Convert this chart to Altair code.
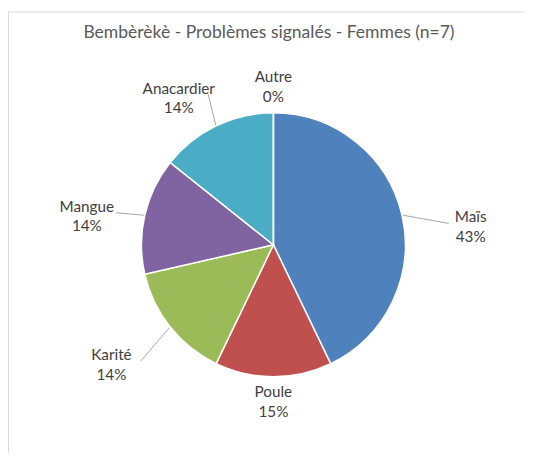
import altair as alt
import pandas as pd

# ---- data ----
categories = ["Maïs", "Poule", "Karité", "Mangue", "Anacardier", "Autre"]
counts = [3, 1, 1, 1, 1, 0]
pct_labels = ["43%", "15%", "14%", "14%", "14%", "0%"]
colors = ["#4F81BD", "#C0504D", "#9BBB59", "#8064A2", "#4BACC6", "#F79646"]
title_text = "Bembèrèkè - Problèmes signalés - Femmes (n=7)"

df = pd.DataFrame({"cat": categories, "n": counts, "pct": pct_labels,
                   "idx": list(range(len(categories)))})

# ---- layout constants ----
W, H = 525, 448
CX, CY, R = 269.5, 237, 134
FONT = "Lato"

base = alt.Chart(df)
color = alt.Color("cat:N", scale=alt.Scale(domain=categories, range=colors), legend=None)

pie = base.mark_arc(radius=R, stroke="white", strokeWidth=1.5).encode(
    theta=alt.Theta("n:Q", stack=True),
    color=color,
    order=alt.Order("idx:Q"),
    x=alt.value(CX), y=alt.value(CY),
)

# label placement (Excel "best fit"-like outside labels)
geo = base.transform_window(
    cum="sum(n)", sort=[alt.SortField("idx")], frame=[None, 0]
).transform_joinaggregate(
    total="sum(n)"
).transform_calculate(
    ang="(datum.cum - datum.n/2)/datum.total*2*PI",
).transform_calculate(
    s="sin(datum.ang)", c="cos(datum.ang)",
).transform_calculate(
    lx=f"{CX} + 191*datum.s + 40*datum.s*abs(datum.c) + 5.6*abs(datum.s)",
    ly=f"{CY} - 160*datum.c + 25*datum.s*datum.c + 12.8*abs(datum.s)",
    label="datum.cat + '\\n' + datum.pct",
)

labels = geo.mark_text(lineBreak="\n", fontSize=15.5, font=FONT, color="#404040",
                       baseline="middle", align="center", lineHeight=20, dy=-10).encode(
    x=alt.X("lx:Q", scale=None), y=alt.Y("ly:Q", scale=None), text="label:N"
)

leaders = geo.transform_filter("abs(datum.s) > 0.3").transform_calculate(
    ex=f"{CX}+{R + 1}*datum.s",
    ey=f"{CY}-{R + 1}*datum.c",
    tx="datum.lx - (datum.s > 0 ? 1 : -1)*min(3.8*length(datum.cat)+7, 30)",
    ty="datum.ly - 4",
).mark_rule(color="#a6a6a6", strokeWidth=1).encode(
    x=alt.X("ex:Q", scale=None), y=alt.Y("ey:Q", scale=None),
    x2="tx:Q", y2="ty:Q",
)

title = alt.Chart(pd.DataFrame({"t": [title_text]})).mark_text(
    fontSize=17.8, font=FONT, color="#595959", baseline="middle"
).encode(text="t:N", x=alt.value(265), y=alt.value(22))

border_top = alt.Chart(pd.DataFrame({"a": [0]})).mark_rule(color="#d9d9d9").encode(
    x=alt.value(0), x2=alt.value(W), y=alt.value(0.5))
border_left = alt.Chart(pd.DataFrame({"a": [0]})).mark_rule(color="#d9d9d9").encode(
    x=alt.value(0.5), y=alt.value(0), y2=alt.value(H))

chart = alt.layer(border_top, border_left, pie, leaders, labels, title).properties(
    width=W, height=H, autosize="none", padding=0
).configure_view(stroke=None)

chart.save("out.html", embed_options={"renderer": "svg", "actions": False})
